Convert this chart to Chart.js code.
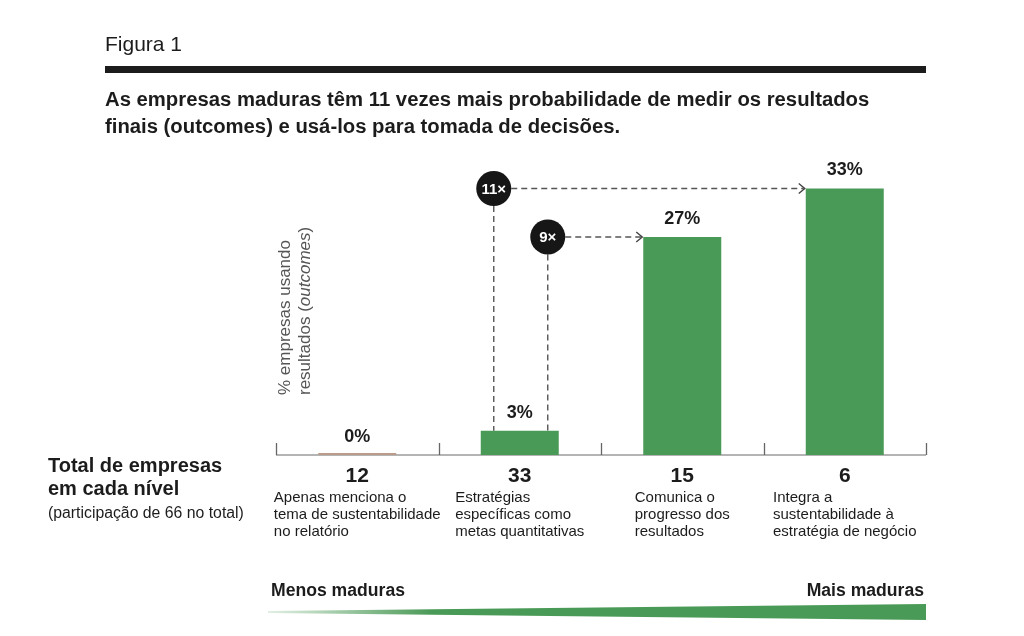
<!DOCTYPE html>
<html>
<head>
<meta charset="utf-8">
<script src="https://cdn.jsdelivr.net/npm/chart.js@4.4.1/dist/chart.umd.min.js"></script>
<style>
  body { margin: 0; background: #fff; }
  canvas { display: block; }
</style>
</head>
<body>
<canvas id="maturityChart" width="1024" height="636"></canvas>
<script>
// chart data
const levels = [
    ['Apenas menciona o', 'tema de sustentabilidade', 'no relatório'],
    ['Estratégias', 'específicas como', 'metas quantitativas'],
    ['Comunica o', 'progresso dos', 'resultados'],
    ['Integra a', 'sustentabilidade à', 'estratégia de negócio']
];
const outcomeShare = [0, 3, 27, 33];
const companyTotals = [12, 33, 15, 6];
const multipliers = ['11×', '9×'];
const multiplierTargets = [3, 2];

const FONT = "'Liberation Sans', Arial, sans-serif";
const GREEN = '#4a9a57';
const INK = '#1c1c1c';

function font(size, weight, style) {
    return (style || '') + ' ' + (weight || 'normal') + ' ' + size + 'px ' + FONT;
}

function dashedLine(c, x1, y1, x2, y2) {
    c.save();
    c.strokeStyle = '#555';
    c.lineWidth = 1.4;
    c.setLineDash([6, 4]);
    c.beginPath();
    c.moveTo(x1, y1);
    c.lineTo(x2, y2);
    c.stroke();
    c.restore();
}

const decorPlugin = {
    id: 'decor',
    beforeDatasetsDraw(chart) {
        const c = chart.ctx;
        const area = chart.chartArea;
        const n = outcomeShare.length;
        const step = (area.right - area.left) / n;
        // baseline + ticks
        c.save();
        c.strokeStyle = '#b4b4b4';
        c.lineWidth = 2;
        c.beginPath();
        c.moveTo(area.left, area.bottom);
        c.lineTo(area.right, area.bottom);
        c.stroke();
        c.strokeStyle = '#666';
        c.lineWidth = 1.3;
        for (let i = 0; i <= n; i++) {
            const x = Math.round(area.left + i * step) + 0.5;
            c.beginPath();
            c.moveTo(x, area.bottom - 12);
            c.lineTo(x, area.bottom);
            c.stroke();
        }
        c.restore();
    },
    afterDatasetsDraw(chart) {
        const c = chart.ctx;
        const area = chart.chartArea;
        const xs = chart.scales.x;
        const ys = chart.scales.y;
        const bars = chart.getDatasetMeta(0).data;

        c.save();
        c.fillStyle = INK;

        // header
        c.textBaseline = 'middle';
        c.textAlign = 'left';
        c.font = font(21, 'normal');
        c.fillText('Figura 1', 105, 45);
        c.fillRect(105, 66, 821, 7);
        c.font = font(20.3, 'bold');
        c.fillText('As empresas maduras têm 11 vezes mais probabilidade de medir os resultados', 105, 100);
        c.fillText('finais (outcomes) e usá-los para tomada de decisões.', 105, 127);

        // y axis title (rotated)
        c.save();
        c.fillStyle = '#555';
        c.translate(285, 395);
        c.rotate(-Math.PI / 2);
        c.font = font(17, 'normal');
        c.fillText('% empresas usando', 0, 0);
        let px = 0;
        c.fillText('resultados (', px, 20);
        px += c.measureText('resultados (').width;
        c.font = font(17, 'normal', 'italic');
        c.fillText('outcomes', px, 20);
        px += c.measureText('outcomes').width;
        c.font = font(17, 'normal');
        c.fillText(')', px, 20);
        c.restore();

        // value labels above bars
        c.textAlign = 'center';
        c.font = font(18, 'bold');
        bars.forEach((bar, i) => {
            c.fillText(outcomeShare[i] + '%', bar.x, ys.getPixelForValue(outcomeShare[i]) - 18);
        });

        // totals and level descriptions
        bars.forEach((bar, i) => {
            const cx = xs.getPixelForValue(i);
            c.textAlign = 'center';
            c.font = font(21, 'bold');
            c.fillText(String(companyTotals[i]), cx, area.bottom + 21);
            c.font = font(15, 'normal');
            const w = Math.max(...levels[i].map(l => c.measureText(l).width));
            c.textAlign = 'left';
            levels[i].forEach((line, k) => {
                c.fillText(line, cx - w / 2, area.bottom + 43 + k * 17);
            });
        });

        // left legend block
        c.textAlign = 'left';
        c.font = font(20, 'bold');
        c.fillText('Total de empresas', 48, 466);
        c.fillText('em cada nível', 48, 489);
        c.font = font(15.8, 'normal');
        c.fillText('(participação de 66 no total)', 48, 514);

        // maturity scale
        c.font = font(17.6, 'bold');
        c.fillText('Menos maduras', 271, 591);
        c.textAlign = 'right';
        c.fillText('Mais maduras', 924, 591);
        const grad = c.createLinearGradient(268, 0, 926, 0);
        grad.addColorStop(0, '#e3efe4');
        grad.addColorStop(0.25, GREEN);
        grad.addColorStop(1, GREEN);
        c.fillStyle = grad;
        c.beginPath();
        c.moveTo(268, 611);
        c.lineTo(926, 604);
        c.lineTo(926, 620);
        c.lineTo(268, 613);
        c.closePath();
        c.fill();

        // multiplier callouts from the 2nd bar
        const src = bars[1];
        const srcTop = ys.getPixelForValue(outcomeShare[1]);
        const srcX = [src.x - 26, src.x + 28];
        multipliers.forEach((label, k) => {
            const t = multiplierTargets[k];
            const cx = srcX[k];
            const cy = ys.getPixelForValue(outcomeShare[t]);
            const endX = bars[t].x - bars[t].width / 2;
            const r = 17.5;
            dashedLine(c, cx, cy + r, cx, srcTop);
            dashedLine(c, cx + r, cy, endX - 2, cy);
            c.save();
            c.strokeStyle = '#444';
            c.lineWidth = 1.4;
            c.beginPath();
            c.moveTo(endX - 7, cy - 5);
            c.lineTo(endX - 1, cy);
            c.lineTo(endX - 7, cy + 5);
            c.stroke();
            c.restore();
            c.fillStyle = '#161616';
            c.beginPath();
            c.arc(cx, cy, r, 0, Math.PI * 2);
            c.fill();
            c.fillStyle = '#fff';
            c.textAlign = 'center';
            c.font = font(15, 'bold');
            c.fillText(label, cx, cy + 1);
        });

        c.restore();
    }
};

const ctx = document.getElementById('maturityChart').getContext('2d');
const chart = new Chart(ctx, {
    type: 'bar',
    data: {
        labels: companyTotals.map(String),
        datasets: [{
            data: outcomeShare,
            backgroundColor: outcomeShare.map(v => v === 0 ? '#bb9c8c' : GREEN),
            borderWidth: 0,
            minBarLength: 2,
            barPercentage: 0.48,
            categoryPercentage: 1
        }]
    },
    options: {
        responsive: false,
        animation: false,
        devicePixelRatio: 1,
        layout: { padding: { left: 276, right: 98, top: 132, bottom: 181 } },
        plugins: {
            legend: { display: false },
            tooltip: { enabled: false }
        },
        scales: {
            x: { display: false },
            y: { display: false, min: 0, max: 40 }
        }
    },
    plugins: [decorPlugin]
});
</script>
</body>
</html>
